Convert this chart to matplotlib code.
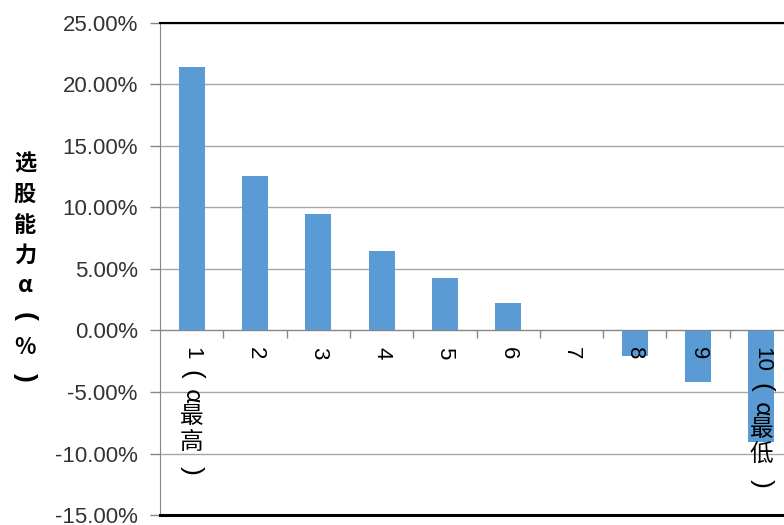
import matplotlib
matplotlib.use("Agg")
import matplotlib.pyplot as plt
from matplotlib.ticker import FuncFormatter, FixedLocator

# Decile groups sorted by alpha, and the stock-picking alpha (%) of each
groups = ["1（α最高）", "2", "3", "4", "5", "6", "7", "8", "9", "10（α最低）"]
alpha_pct = [21.45, 12.55, 9.45, 6.45, 4.25, 2.2, 0.02, -2.1, -4.2, -9.1]
y_ticks = [-15, -10, -5, 0, 5, 10, 15, 20, 25]
y_label = "选股能力α（%）"

BAR = "#5B9BD5"
GRID = "#A6A6A6"
AXIS = "#868686"
TXT = "#333333"
LATIN = ["Liberation Sans", "DejaVu Sans"]
CJK = ["Noto Sans CJK SC", "DejaVu Sans"]
# full-width brackets are set as turned half-width ones in vertical text
TURNED = {"（": "(", "）": ")"}

W, H = 784, 525
fig = plt.figure(figsize=(W / 100, H / 100), dpi=100)
ax = fig.add_axes([160 / W, 1 - 515 / H, 633 / W, (515 - 23) / H])

x = list(range(len(groups)))
ax.bar(x, alpha_pct, width=0.41, color=BAR, zorder=2)

ax.set_xlim(-0.5, len(groups) - 0.5)
ax.set_ylim(y_ticks[0], y_ticks[-1])
ax.yaxis.set_major_locator(FixedLocator(y_ticks))
ax.yaxis.set_major_formatter(FuncFormatter(lambda v, p: f"{v:.2f}%"))
for lbl in ax.get_yticklabels():
    lbl.set_fontfamily(LATIN)
ax.tick_params(axis="y", direction="out", length=7, width=1, color=AXIS,
               labelsize=16, labelcolor=TXT, pad=9)
ax.grid(axis="y", color=GRID, linewidth=1, zorder=0)
ax.set_axisbelow(True)

# x axis drawn through zero, ticks between categories
ax.spines["bottom"].set_position(("data", 0))
ax.spines["bottom"].set_color(AXIS)
ax.spines["left"].set_color(AXIS)
ax.spines["right"].set_visible(False)
ax.spines["top"].set_color("black")
ax.set_xticks([i + 0.5 for i in range(len(groups) - 1)])
ax.set_xticklabels([])
ax.tick_params(axis="x", direction="out", length=6, width=1, color=AXIS)
ax.axhline(y_ticks[0], color="black", linewidth=2.2, zorder=3, clip_on=False)
ax.axhline(y_ticks[-1], color="black", linewidth=1.5, zorder=3, clip_on=False)


def tokens(s):
    out, run = [], ""
    for ch in s:
        if ch.isdigit():
            run += ch
        else:
            if run:
                out.append(run)
                run = ""
            out.append(ch)
    if run:
        out.append(run)
    return out


def extent(tok):
    if tok.isdigit():
        return 13 * len(tok)
    if tok in "（）":
        return 30
    if tok == "α":
        return 14
    return 26


# vertical category labels: digits, brackets and α turned sideways
px = 72 / 100
for i, g in enumerate(groups):
    prev = None
    c = 0
    for t in tokens(g):
        h = extent(t)
        c = 16 + h / 2 if prev is None else c + (extent(prev) + h) / 2
        prev = t
        sideways = t.isdigit() or t in "α（）"
        latin = t.isdigit() or t in TURNED
        size = 16 if t.isdigit() else 19 if t in TURNED else 17
        ax.annotate(TURNED.get(t, t), xy=(i, 0), xycoords="data",
                    xytext=(0, -c * px), textcoords="offset points",
                    ha="center", va="center",
                    rotation=-90 if sideways else 0,
                    fontsize=size,
                    family=LATIN if latin else CJK,
                    color="black", zorder=5, annotation_clip=False)

# stacked axis title
y0, pitch = 164, 30.5
for k, ch in enumerate(y_label):
    turned = ch in TURNED
    fig.text(25 / W, 1 - (y0 + k * pitch) / H, TURNED.get(ch, ch),
             ha="center", va="center", fontsize=19 if turned else 16,
             fontweight="bold", rotation=-90 if turned else 0,
             family=LATIN if turned else CJK, color="black")

fig.savefig("out.png", dpi=100)
